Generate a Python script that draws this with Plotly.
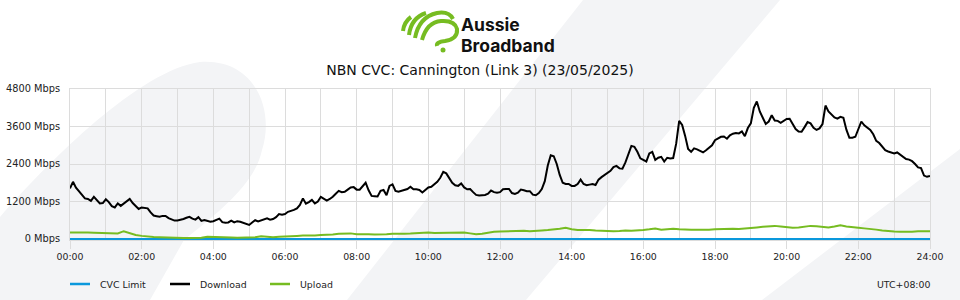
import plotly.graph_objects as go

# ---------------- data ----------------
# Download (Mbps), 5-minute samples from 00:00 to 24:00
download_mbps = [
    1620, 1830, 1640, 1520, 1400, 1300, 1280, 1220, 1350, 1250, 1140, 1150,
    1270, 1180, 1050, 1010, 1140, 1060, 1140, 1200, 1280, 1150, 1060, 960,
    1010, 990, 980, 850, 750, 730, 710, 740, 740, 670, 620, 590,
    590, 610, 640, 680, 710, 650, 620, 700, 580, 610, 580, 550,
    570, 620, 650, 540, 520, 530, 590, 530, 570, 550, 520, 480,
    450, 530, 600, 560, 600, 630, 660, 620, 640, 700, 800, 780,
    800, 870, 890, 930, 980, 1090, 1300, 1130, 1180, 1250, 1140, 1200,
    1350, 1280, 1230, 1280, 1350, 1450, 1540, 1500, 1510, 1580, 1650, 1660,
    1580, 1580, 1680, 1800, 1560, 1380, 1370, 1360, 1540, 1570, 1400, 1700,
    1750, 1540, 1510, 1540, 1550, 1600, 1670, 1590, 1590, 1570, 1490, 1580,
    1650, 1670, 1750, 1830, 1960, 2150, 2100, 1950, 1800, 1720, 1700, 1780,
    1650, 1590, 1600, 1500, 1410, 1390, 1400, 1410, 1450, 1550, 1500, 1480,
    1500, 1590, 1600, 1600, 1470, 1440, 1480, 1580, 1560, 1530, 1530, 1420,
    1400, 1470, 1600, 1850, 2350, 2680, 2650, 2400, 2050, 1800, 1760, 1760,
    1700, 1700, 1760, 1900, 1760, 1720, 1740, 1760, 1730, 1900, 1980, 2050,
    2120, 2180, 2300, 2340, 2260, 2250, 2450, 2690, 2980, 2950, 2790, 2580,
    2530, 2480, 2740, 2790, 2530, 2600, 2630, 2480, 2600, 2580, 2590, 3050,
    3780, 3650, 3300, 2880, 2790, 2900, 2870, 2830, 2770, 2840, 2910, 3000,
    3160, 3210, 3270, 3280, 3210, 3320, 3370, 3390, 3380, 3440, 3290, 3550,
    3700, 4200, 4400, 4080, 3850, 3680, 3760, 3960, 3790, 3780, 3720, 3780,
    3840, 3850, 3680, 3520, 3440, 3430, 3580, 3740, 3700, 3560, 3490, 3540,
    3680, 4270, 4080, 3990, 3890, 3850, 3910, 3880, 3500, 3240, 3240, 3270,
    3500, 3760, 3640, 3570, 3490, 3350, 3140, 3070, 2950, 2840, 2800, 2770,
    2740, 2770, 2700, 2620, 2560, 2540, 2490, 2400, 2290, 2270, 2030, 1990,
    2020,
]

# Upload (Mbps), 10-minute samples from 00:00 to 24:00
upload_mbps = [
    210, 215, 210, 205, 200, 195,
    170, 165, 175, 250, 190, 130,
    100, 75, 65, 55, 45, 35,
    35, 30, 30, 35, 40, 70,
    60, 45, 40, 45, 40, 50,
    55, 55, 90, 80, 60, 75,
    90, 105, 100, 110, 105, 115,
    125, 130, 145, 165, 175, 180,
    150, 140, 150, 145, 140, 150,
    165, 160, 170, 175, 185, 200,
    205, 195, 200, 190, 210, 215,
    210, 180, 150, 170, 200, 235,
    240, 250, 260, 255, 265, 250,
    255, 275, 290, 300, 330, 360,
    310, 285, 290, 285, 270, 265,
    240, 250, 260, 275, 265, 270,
    290, 310, 335, 300, 310, 330,
    315, 300, 295, 300, 290, 300,
    310, 320, 340, 330, 320, 330,
    340, 370, 390, 410, 420, 400,
    370, 360, 370, 390, 420, 410,
    380, 370, 400, 440, 400, 390,
    360, 340, 330, 300, 270, 250,
    240, 235, 230, 230, 250, 240,
    245,
]

# CVC limit (Mbps)
cvc_hours = [0, 24]
cvc_limit = [0, 0]

x_tick_vals = [0, 2, 4, 6, 8, 10, 12, 14, 16, 18, 20, 22, 24]
x_tick_text = ["00:00", "02:00", "04:00", "06:00", "08:00", "10:00", "12:00",
               "14:00", "16:00", "18:00", "20:00", "22:00", "24:00"]
y_tick_vals = [0, 1200, 2400, 3600, 4800]
y_tick_text = ["0 Mbps", "1200 Mbps", "2400 Mbps", "3600 Mbps", "4800 Mbps"]

title_text = "NBN CVC: Cannington (Link 3) (23/05/2025)"
series_names = ["CVC Limit", "Download", "Upload"]
series_colors = ["#0a98dc", "#000000", "#76bc21"]

download_hours = [i * 5 / 60 for i in range(len(download_mbps))]
upload_hours = [i * 10 / 60 for i in range(len(upload_mbps))]

# ---------------- layout helpers ----------------
W, H = 960, 300
ML, MR, MT, MB = 70, 30, 89, 60
PW, PH = W - ML - MR, H - MT - MB


def px(x):
    return (x - ML) / PW


def py(y):
    return (H - MB - y) / PH


def P(x, y):
    return f"{px(x):.5f},{py(y):.5f}"


def path(cmds):
    out = []
    for c, pts in cmds:
        out.append(c + " ".join(P(a, b) for a, b in pts))
    return " ".join(out)


FONT = "DejaVu Sans"
GRID = "#dcdcdc"
BG = "#f3f4f6"
GREEN = "#76bc21"
TICK_SIZE = 9.4

fig = go.Figure()
fig.add_trace(go.Scatter(x=cvc_hours, y=cvc_limit, mode="lines", name=series_names[0],
                         line=dict(color=series_colors[0], width=2.2)))
fig.add_trace(go.Scatter(x=download_hours, y=download_mbps, mode="lines", name=series_names[1],
                         line=dict(color=series_colors[1], width=2)))
fig.add_trace(go.Scatter(x=upload_hours, y=upload_mbps, mode="lines", name=series_names[2],
                         line=dict(color=series_colors[2], width=2)))

shapes = []
# background decorations
shapes.append(dict(type="path", xref="paper", yref="paper", layer="below", line=dict(width=0),
                   fillcolor=BG,
                   path=path([("M", [(0, 217)]),
                              ("C", [(50, 160), (140, 70), (200, 62)]),
                              ("C", [(255, 58), (275, 110), (262, 150)]),
                              ("C", [(255, 185), (215, 215), (184, 240)]),
                              ("L", [(150, 300)]), ("L", [(0, 300)])]) + " Z"))
shapes.append(dict(type="path", xref="paper", yref="paper", layer="below", line=dict(width=0),
                   fillcolor=BG,
                   path=path([("M", [(347, 300)]), ("L", [(583, 0)]), ("L", [(780, 0)]),
                              ("L", [(526, 300)])]) + " Z"))
shapes.append(dict(type="path", xref="paper", yref="paper", layer="below", line=dict(width=0),
                   fillcolor=BG,
                   path=path([("M", [(762, 300)]), ("L", [(960, 149)]), ("L", [(960, 300)])]) + " Z"))

# logo icon
icon = [
    [("M", [(403, 31)]), ("Q", [(404, 22), (411, 17)])],
    [("M", [(409, 35)]), ("Q", [(411, 18), (426, 13)])],
    [("M", [(415, 38)]), ("Q", [(419, 17), (437, 13)]), ("Q", [(449, 11), (453, 19)])],
    [("M", [(422, 40)]), ("Q", [(427, 22), (441, 21)]), ("Q", [(455, 20), (457, 29)]),
     ("Q", [(458, 39), (445, 41)]), ("Q", [(436, 42), (437, 46)])],
]
for seg in icon:
    shapes.append(dict(type="path", xref="paper", yref="paper", line=dict(color=GREEN, width=4),
                       path=path(seg)))
shapes.append(dict(type="circle", xref="paper", yref="paper", line=dict(width=0), fillcolor=GREEN,
                   x0=px(440.5), x1=px(445.5), y0=py(52.5), y1=py(47.5)))

# custom legend
legend_x = [70, 170, 270]
for i in range(3):
    shapes.append(dict(type="line", xref="paper", yref="paper",
                       x0=px(legend_x[i]), x1=px(legend_x[i] + 20), y0=py(284), y1=py(284),
                       line=dict(color=series_colors[i], width=2.5)))

annotations = []
for i in range(3):
    annotations.append(dict(text=series_names[i], xref="paper", yref="paper",
                            x=px(legend_x[i] + 28), y=py(284), xanchor="left", yanchor="middle",
                            showarrow=False, font=dict(family=FONT, size=TICK_SIZE, color="#222")))
annotations.append(dict(text="UTC+08:00", xref="paper", yref="paper", x=px(932), y=py(284),
                        xanchor="right", yanchor="middle", showarrow=False,
                        font=dict(family=FONT, size=TICK_SIZE, color="#222")))
annotations.append(dict(text="<b>Aussie</b>", xref="paper", yref="paper", x=px(461), y=py(24.5),
                        xanchor="left", yanchor="middle", showarrow=False, borderpad=0, borderwidth=0,
                        font=dict(family="Inter", size=17.5, color="#111")))
annotations.append(dict(text="<b>Broadband</b>", xref="paper", yref="paper", x=px(461), y=py(45.5),
                        xanchor="left", yanchor="middle", showarrow=False, borderpad=0, borderwidth=0,
                        font=dict(family="Inter", size=17.5, color="#111")))

fig.update_layout(
    width=W, height=H,
    margin=dict(l=ML, r=MR, t=MT, b=MB, pad=0, autoexpand=False),
    paper_bgcolor="white", plot_bgcolor="rgba(0,0,0,0)",
    showlegend=False,
    title=dict(text=title_text, x=0.5, xref="container", xanchor="center",
               y=1 - 70 / H, yref="container", yanchor="middle",
               font=dict(family=FONT, size=14, color="#111")),
    shapes=shapes, annotations=annotations,
    xaxis=dict(range=[0, 24], tickvals=x_tick_vals, ticktext=x_tick_text, automargin=False,
               showgrid=True, gridcolor=GRID, gridwidth=1,
               minor=dict(dtick=1, tick0=0, showgrid=True, gridcolor=GRID, ticks=""),
               ticks="outside", ticklen=8, tickcolor=GRID,
               showline=True, linecolor=GRID, mirror=True, zeroline=False,
               tickfont=dict(family=FONT, size=TICK_SIZE, color="#222")),
    yaxis=dict(range=[-(PH * 4800 / 150 - 4800), 4800], tickvals=y_tick_vals, ticktext=y_tick_text,
               automargin=False,
               showgrid=True, gridcolor=GRID, gridwidth=1, zeroline=False,
               ticks="outside", ticklen=7, tickcolor="rgba(0,0,0,0)",
               showline=True, linecolor=GRID, mirror=True,
               tickfont=dict(family=FONT, size=9.8, color="#222")),
)

fig.write_html("out.html")
